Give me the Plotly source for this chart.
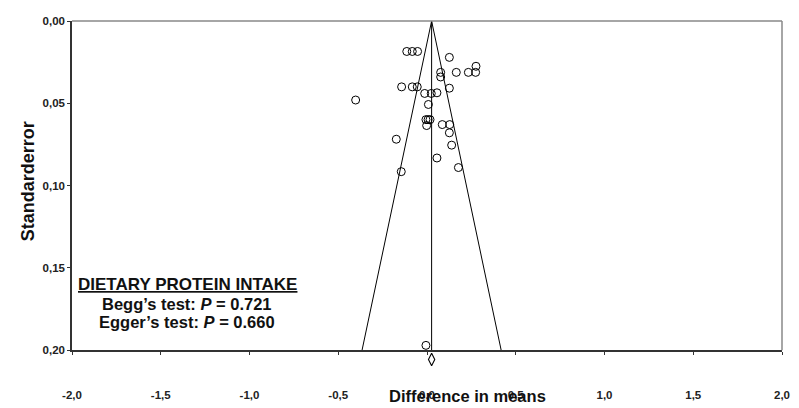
import plotly.graph_objects as go

# Study effects (difference in means) and standard errors
effect = [-0.114, -0.083, -0.053, 0.126, 0.276, 0.274, 0.233, 0.165, 0.077, 0.077,
          -0.143, -0.083, -0.055, 0.126, -0.013, 0.024, 0.056, -0.402, 0.008, -0.006,
          0.006, 0.017, -0.002, 0.086, 0.128, 0.126, -0.173, 0.139, 0.056, 0.177,
          -0.145, -0.006]
std_err = [0.0185, 0.0185, 0.0185, 0.0221, 0.0275, 0.0312, 0.0312, 0.0312, 0.0312, 0.034,
           0.040, 0.040, 0.040, 0.0408, 0.044, 0.044, 0.0436, 0.048, 0.0507, 0.0599,
           0.0599, 0.0599, 0.0635, 0.0629, 0.0629, 0.0679, 0.0718, 0.0754, 0.0832, 0.089,
           0.0915, 0.197]
pooled_effect = 0.026
pooled_diamond_se = 0.2056
se_max = 0.20
z = 1.96

x_ticks = [-2.0, -1.5, -1.0, -0.5, 0.0, 0.5, 1.0, 1.5, 2.0]
x_tick_labels = ["-2,0", "-1,5", "-1,0", "-0,5", "0,0", "0,5", "1,0", "1,5", "2,0"]
y_ticks = [0.00, 0.05, 0.10, 0.15, 0.20]
y_tick_labels = ["0,00", "0,05", "0,10", "0,15", "0,20"]

fig = go.Figure()

# funnel
fig.add_trace(go.Scatter(
    x=[pooled_effect - z * se_max, pooled_effect, pooled_effect + z * se_max],
    y=[se_max, 0, se_max], mode="lines",
    line=dict(color="black", width=1), hoverinfo="skip", showlegend=False))
fig.add_trace(go.Scatter(
    x=[pooled_effect, pooled_effect], y=[0, se_max], mode="lines",
    line=dict(color="black", width=1), hoverinfo="skip", showlegend=False))

# studies
fig.add_trace(go.Scatter(
    x=effect, y=std_err, mode="markers",
    marker=dict(symbol="circle-open", size=8, color="black", line=dict(width=1)),
    showlegend=False, cliponaxis=False))

# pooled diamond, drawn in a thin strip below the main axis (continuation of the SE scale)
fig.add_trace(go.Scatter(
    x=[pooled_effect], y=[pooled_diamond_se], mode="markers", xaxis="x2", yaxis="y2",
    marker=dict(symbol="diamond-tall-open", size=9, color="black", line=dict(width=1.1)),
    showlegend=False, cliponaxis=False))

tick_font = dict(family="Liberation Sans Narrow, Liberation Sans, Arial", size=11.5, color="#222")
label_font = "Liberation Sans, Arial"

# Page body has an 8px margin, so the figure is sized/shifted to land on the window
strip_px = 18
plot_px = 335 + strip_px
main_bottom = strip_px / plot_px
px_per_se = 335 / se_max

fig.update_layout(
    width=791, height=400,
    margin=dict(l=64, r=17, t=7, b=400 - 7 - plot_px),
    paper_bgcolor="white", plot_bgcolor="rgba(0,0,0,0)",
    xaxis=dict(range=[-2, 2], tickvals=x_ticks, ticktext=[f"<b>{t}</b>" for t in x_tick_labels],
               ticks="outside", ticklen=3, tickcolor="#333", showgrid=False, zeroline=False,
               showline=True, linecolor="#333", linewidth=1.5, mirror=False, anchor="y",
               ticklabelstandoff=30, tickfont=tick_font),
    yaxis=dict(range=[se_max, 0], domain=[main_bottom, 1],
               tickvals=y_ticks, ticktext=[f"<b>{t}</b>" for t in y_tick_labels],
               ticks="outside", ticklen=3, tickcolor="#333", showgrid=False, zeroline=False,
               showline=True, linecolor="#333", linewidth=1.5, mirror=False,
               tickfont=tick_font),
    xaxis2=dict(range=[-2, 2], anchor="y2", visible=False, matches="x"),
    yaxis2=dict(range=[se_max + strip_px / px_per_se, se_max], domain=[0, main_bottom],
                anchor="x2", visible=False),
    shapes=[
        dict(type="line", xref="x domain", yref="y domain", x0=0, x1=1, y0=1, y1=1,
             line=dict(color="#888", width=1.5)),
        dict(type="line", xref="x domain", yref="y domain", x0=1, x1=1, y0=0, y1=1,
             line=dict(color="#888", width=1.5)),
    ],
    annotations=[
        dict(text="<b>Difference in means</b>", xref="x domain", yref="y domain",
             x=(467 - 72) / 710, y=-(396 - 350) / 335, showarrow=False,
             font=dict(family=label_font, size=16.5, color="#111"),
             xanchor="center", yanchor="middle"),
        dict(text="<b>Standarderror</b>", xref="x domain", yref="y domain",
             x=-(72 - 28) / 710, y=1 - (178 - 15) / 335, showarrow=False, textangle=-90,
             font=dict(family=label_font, size=18, color="#111"),
             xanchor="center", yanchor="middle"),
        dict(text="<b><u>DIETARY PROTEIN INTAKE</u></b>", xref="x domain", yref="y domain",
             x=(187 - 72) / 710, y=1 - (283 - 15) / 335, showarrow=False,
             font=dict(family=label_font, size=17, color="#111"),
             xanchor="center", yanchor="middle"),
        dict(text="<b>Begg’s test: <i>P</i> = 0.721</b>", xref="x domain", yref="y domain",
             x=(187 - 72) / 710, y=1 - (302.5 - 15) / 335, showarrow=False,
             font=dict(family=label_font, size=16.5, color="#111"),
             xanchor="center", yanchor="middle"),
        dict(text="<b>Egger’s test: <i>P</i> = 0.660</b>", xref="x domain", yref="y domain",
             x=(187 - 72) / 710, y=1 - (321.5 - 15) / 335, showarrow=False,
             font=dict(family=label_font, size=16.5, color="#111"),
             xanchor="center", yanchor="middle"),
    ],
)

fig.write_html("out.html")
